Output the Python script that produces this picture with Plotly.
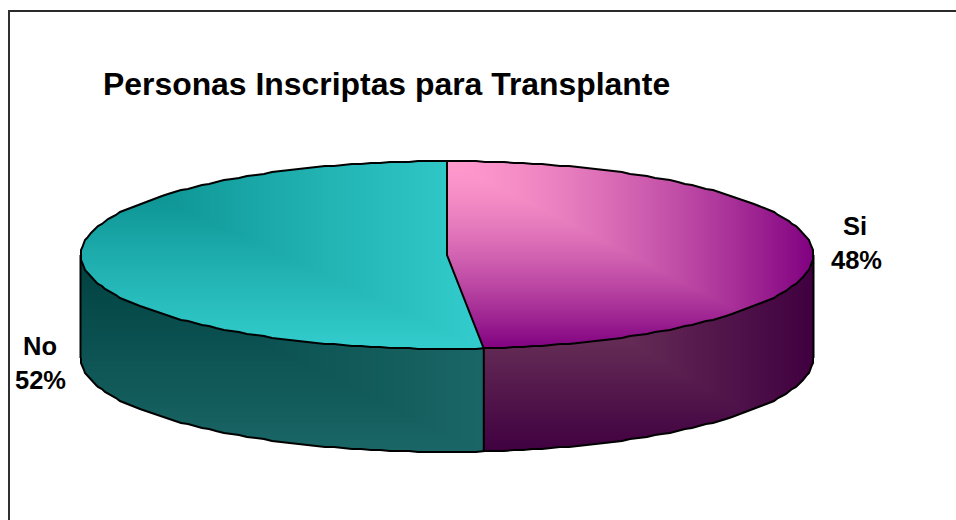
import numpy as np
import plotly.graph_objects as go

TITLE = "Personas Inscriptas para Transplante"
categories = ["Si", "No"]
values = [48.4, 51.6]

W, H = 956, 520
CX, CY, RX, RY, DEPTH = 447.0, 255.0, 366.5, 94.0, 103.0
FONT = "Liberation Sans, Arial, sans-serif"
STEP_X, STEP_Y = 1.0, 1.0

split = 2 * np.pi * values[0] / sum(values)


def ell(theta, dy=0.0):
    return CX + RX * np.sin(theta), CY - RY * np.cos(theta) + dy


def stepped(px, py, dy=0.0):
    qx = CX + np.round((np.asarray(px) - CX) / STEP_X) * STEP_X
    qy = CY + np.round((np.asarray(py) - dy - CY) / STEP_Y) * STEP_Y + dy
    return qx, qy


split_x, split_y = ell(split)


def gradient_layer(x0, x1, y0, y1, box, colors, mask_fn, gamma=1.0):
    xs = np.arange(int(x0), int(x1) + 1) + 0.5
    ys = np.arange(int(y0), int(y1) + 1) + 0.5
    X, Y = np.meshgrid(xs, ys)
    bx0, bx1, by0, by1 = box
    t = np.maximum((X - bx0) / (bx1 - bx0), (Y - by0) / (by1 - by0))
    t = np.clip(t, 0, 1) ** gamma
    z = np.where(mask_fn(X, Y), t, np.nan).astype("float32")
    return go.Heatmap(x=xs, y=ys, z=z, zmin=0, zmax=1, zsmooth=False, showscale=False,
                      colorscale=[[0, colors[0]], [1, colors[1]]], hoverinfo="skip")


def top_mask(X, Y, a0, a1):
    u = (X - CX) / RX
    v = (CY - Y) / RY
    ang = np.mod(np.arctan2(u, v), 2 * np.pi)
    return (u * u + v * v <= 1.0) & (ang >= a0) & (ang < a1)


def wall_mask(X, Y, left):
    u = (X - CX) / RX
    inside = np.abs(u) <= 1
    arc = CY + RY * np.sqrt(np.clip(1 - u * u, 0, 1))
    side = X < split_x if left else X >= split_x
    return inside & (Y >= arc) & (Y <= arc + DEPTH) & side


XL, XR = CX - RX, CX + RX
YT, YB = CY - RY, CY + RY
traces = [
    gradient_layer(CX, XR, YT, YB, (CX, XR, YT, YB), ("#FF99CC", "#800080"),
                   lambda X, Y: top_mask(X, Y, 0, split), gamma=1.5),
    gradient_layer(XL, split_x + 2, YT, YB, (XL, split_x, YT, YB), ("#008080", "#33CCCC"),
                   lambda X, Y: top_mask(X, Y, split, 2 * np.pi), gamma=0.8),
    gradient_layer(split_x - 1, XR, CY, YB + DEPTH, (split_x, XR, CY, YB + DEPTH), ("#804D66", "#400040"),
                   lambda X, Y: wall_mask(X, Y, False)),
    gradient_layer(XL, split_x + 1, CY, YB + DEPTH, (XL, split_x, CY, YB + DEPTH), ("#004040", "#1A6666"),
                   lambda X, Y: wall_mask(X, Y, True)),
]


def outline(px, py):
    return go.Scatter(x=px, y=py, mode="lines", line=dict(color="#000000", width=2),
                      hoverinfo="skip", showlegend=False)


th_full = np.linspace(0, 2 * np.pi, 241)
ex, ey = ell(th_full)
traces.append(outline(*stepped(ex, ey)))
th_low = np.linspace(np.pi / 2, 3 * np.pi / 2, 121)
bx, by = ell(th_low, DEPTH)
traces.append(outline(*stepped(bx, by, DEPTH)))
for th in (np.pi / 2, 3 * np.pi / 2):
    sx, sy = ell(th)
    traces.append(outline([sx, sx], [sy, sy + DEPTH]))
traces.append(outline([split_x, split_x], [split_y, split_y + DEPTH]))
top_x, top_y = ell(0.0)
traces.append(outline([top_x, CX, split_x], [top_y, CY, split_y]))

fig = go.Figure(traces)

pct = [round(100 * v / sum(values)) for v in values]
label_pos = [(855, 237, 856, 271), (40, 357, 40, 391)]
ann = [dict(x=101, y=104, text=f"<b>{TITLE}</b>", xanchor="left", yanchor="bottom", showarrow=False,
            font=dict(family=FONT, size=31.9, color="#000000"))]
for cat, p, (x1, y1, x2, y2) in zip(categories, pct, label_pos):
    ann.append(dict(x=x1, y=y1 + 5, text=f"<b>{cat}</b>", xanchor="center", yanchor="bottom", showarrow=False,
                    font=dict(family=FONT, size=25.5, color="#000000")))
    ann.append(dict(x=x2, y=y2 + 5, text=f"<b>{p}%</b>", xanchor="center", yanchor="bottom", showarrow=False,
                    font=dict(family=FONT, size=25.5, color="#000000")))

fig.update_layout(
    width=W, height=H, autosize=False, margin=dict(l=0, r=0, t=0, b=0),
    paper_bgcolor="#FFFFFF", plot_bgcolor="#FFFFFF", showlegend=False,
    xaxis=dict(range=[0, W], visible=False, fixedrange=True),
    yaxis=dict(range=[H, 0], visible=False, fixedrange=True),
    annotations=ann,
    shapes=[
        dict(type="line", x0=8, x1=W, y0=11, y1=11, line=dict(color="#2A2A2A", width=2)),
        dict(type="line", x0=9, x1=9, y0=10, y1=H, line=dict(color="#303030", width=2)),
    ],
)
fig.write_html("out.html", config={"displayModeBar": False},
               post_script="document.body.style.margin='0';document.body.style.overflow='hidden';")
